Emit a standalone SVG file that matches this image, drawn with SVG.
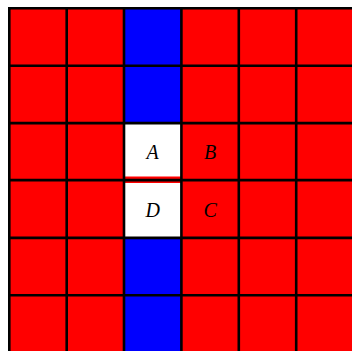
<svg xmlns="http://www.w3.org/2000/svg" width="352" height="351" viewBox="0 0 352 351">
<style>
.red{fill:#ff0000}
.blue{fill:#0000ff}
.white{fill:#ffffff}
.grid line{stroke:#000;stroke-width:2.6}
.lbl{font-family:"Liberation Serif","DejaVu Serif",serif;font-style:italic;font-size:20px;fill:#000;text-anchor:middle}
</style>
<rect x="0" y="0" width="352" height="351" fill="#ffffff"/>
<rect class="red" x="9.3" y="8.3" width="344" height="344"/>
<g id="blue-top"><rect class="blue" x="124" y="8.3" width="57.4" height="114.8"/></g>
<g id="blue-bottom"><rect class="blue" x="124" y="237.9" width="57.4" height="114.8"/></g>
<g id="A"><rect class="white" x="124" y="123.1" width="57.4" height="53.4"/><text class="lbl" x="152.7" y="159">A</text></g>
<g id="B"><text class="lbl" x="210.2" y="159">B</text></g>
<g id="D"><rect class="white" x="124" y="183" width="57.4" height="54.9"/><text class="lbl" x="152.7" y="216.5">D</text></g>
<g id="C"><text class="lbl" x="210.2" y="216.5">C</text></g>
<g class="grid" id="grid">
<line x1="9.3" y1="7" x2="9.3" y2="351"/>
<line x1="66.7" y1="8.3" x2="66.7" y2="351"/>
<line x1="124" y1="8.3" x2="124" y2="351"/>
<line x1="181.4" y1="8.3" x2="181.4" y2="351"/>
<line x1="238.8" y1="8.3" x2="238.8" y2="351"/>
<line x1="296.2" y1="8.3" x2="296.2" y2="351"/>
<line x1="8" y1="8.3" x2="352" y2="8.3"/>
<line x1="9.3" y1="65.7" x2="352" y2="65.7"/>
<line x1="9.3" y1="123.1" x2="352" y2="123.1"/>
<line x1="9.3" y1="180.1" x2="352" y2="180.1"/>
<line x1="9.3" y1="237.9" x2="352" y2="237.9"/>
<line x1="9.3" y1="295.3" x2="352" y2="295.3"/>
</g>
</svg>
